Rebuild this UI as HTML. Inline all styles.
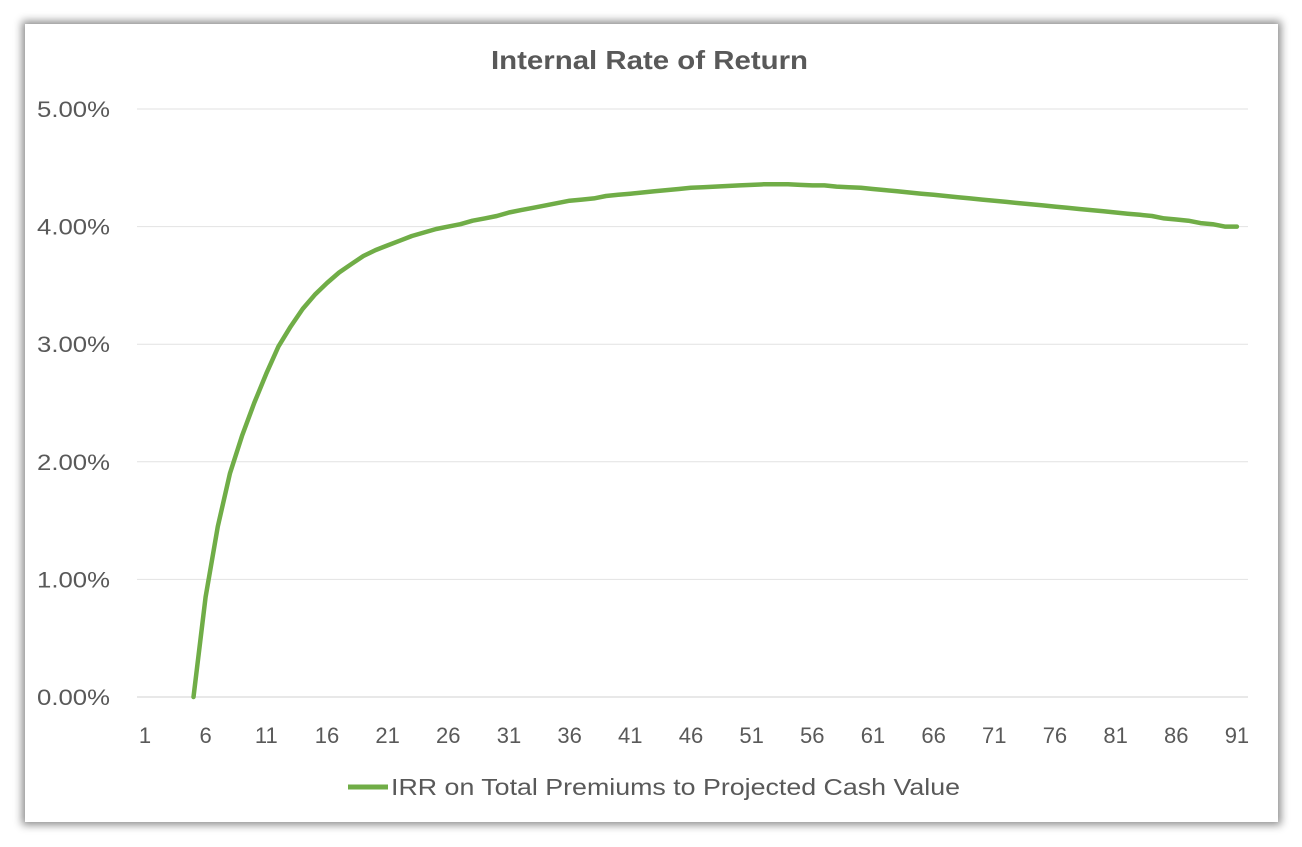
<!DOCTYPE html>
<html><head><meta charset="utf-8"><style>
html,body{margin:0;padding:0;background:#fff;}
body{width:1302px;height:847px;position:relative;overflow:hidden;font-family:"Liberation Sans",sans-serif;}
#panel{position:absolute;left:25px;top:24px;width:1253px;height:798px;background:#fff;box-shadow:0 0 8px 3px rgba(0,0,0,0.45);}
</style></head><body>
<div id="panel"></div>
<svg id="chart" width="1302" height="847" style="position:absolute;left:0;top:0">
<text x="491" y="69" textLength="317" lengthAdjust="spacingAndGlyphs" font-size="26" font-weight="bold" fill="#595959" font-family="Liberation Sans, sans-serif">Internal Rate of Return</text>
<g id="grid"></g><g id="yt"></g><g id="xt"></g><g id="series"></g>
<g>
<line x1="348" y1="787" x2="388" y2="787" stroke="#70AD47" stroke-width="5"/>
<text x="391" y="795" textLength="569" lengthAdjust="spacingAndGlyphs" font-size="23" fill="#595959" font-family="Liberation Sans, sans-serif">IRR on Total Premiums to Projected Cash Value</text>
</g>
</svg>
<script>
const yTicks=[0,1,2,3,4,5];
const yTickLabels=["0.00%","1.00%","2.00%","3.00%","4.00%","5.00%"];
const xTickLabels=[1,6,11,16,21,26,31,36,41,46,51,56,61,66,71,76,81,86,91];
const years=[];for(let i=1;i<=91;i++)years.push(i);
const irr=[null,null,null,null,0,0.85,1.45,1.9,2.22,2.5,2.75,2.98,3.15,3.3,3.42,3.52,3.61,3.68,3.75,3.8,3.84,3.88,3.92,3.95,3.98,4.0,4.02,4.05,4.07,4.09,4.12,4.14,4.16,4.18,4.2,4.22,4.23,4.24,4.26,4.27,4.28,4.29,4.3,4.31,4.32,4.33,4.335,4.34,4.345,4.35,4.355,4.36,4.36,4.36,4.355,4.35,4.35,4.34,4.335,4.33,4.32,4.31,4.3,4.29,4.28,4.27,4.26,4.25,4.24,4.23,4.22,4.21,4.2,4.19,4.18,4.17,4.16,4.15,4.14,4.13,4.12,4.11,4.1,4.09,4.07,4.06,4.05,4.03,4.02,4.0,4.0];
const NS="http://www.w3.org/2000/svg";
const X0=138.9,X1=1243,Y0=697,PER=117.6;
const step=(X1-X0)/years.length;
const xs=i=>X0+step*(i-0.5);
const ys=v=>Y0-v*PER;
const grid=document.getElementById('grid'),yt=document.getElementById('yt'),xt=document.getElementById('xt'),ser=document.getElementById('series');
yTicks.forEach((t,k)=>{
 const l=document.createElementNS(NS,'line');
 l.setAttribute('x1',137);l.setAttribute('x2',1248);l.setAttribute('y1',ys(t));l.setAttribute('y2',ys(t));
 l.setAttribute('stroke',t===0?'#d0d0d0':'#e2e2e2');l.setAttribute('stroke-width','1');
 
 
 grid.appendChild(l);
 const tx=document.createElementNS(NS,'text');
 tx.setAttribute('x',37);tx.setAttribute('y',ys(t)+8);
 tx.setAttribute('textLength','73');tx.setAttribute('lengthAdjust','spacingAndGlyphs');
 tx.setAttribute('font-size','22');tx.setAttribute('fill','#595959');tx.setAttribute('font-family','Liberation Sans, sans-serif');
 tx.textContent=yTickLabels[k];
 
 
 yt.appendChild(tx);
});
xTickLabels.forEach(v=>{
 const tx=document.createElementNS(NS,'text');
 tx.setAttribute('x',xs(v));tx.setAttribute('y',743);tx.setAttribute('text-anchor','middle');
 tx.setAttribute('font-size','22');tx.setAttribute('fill','#595959');tx.setAttribute('font-family','Liberation Sans, sans-serif');
 tx.textContent=v;
 
 
 xt.appendChild(tx);
});
let d='';
irr.forEach((v,i)=>{if(v===null)return;d+=(d?'L':'M')+xs(years[i]).toFixed(1)+','+ys(v).toFixed(1);});
const p=document.createElementNS(NS,'path');
p.setAttribute('d',d);p.setAttribute('fill','none');p.setAttribute('stroke','#70AD47');p.setAttribute('stroke-width','4.5');p.setAttribute('stroke-linejoin','round');p.setAttribute('stroke-linecap','round');


ser.appendChild(p);
</script>
</body></html>
